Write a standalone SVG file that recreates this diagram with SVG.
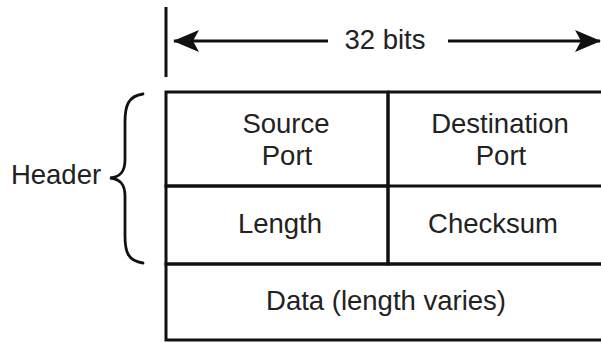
<svg xmlns="http://www.w3.org/2000/svg" width="601" height="342" viewBox="0 0 601 342">
  <style>
    .frame { fill: none; stroke: #111; stroke-width: 3; }
    .rule { stroke: #111; stroke-width: 3; fill: none; }
    .brace { fill: none; stroke: #111; stroke-width: 2.8; stroke-linecap: round; }
    .lbl { font-family: "Liberation Sans", Arial, Helvetica, sans-serif; font-size: 27.5px; fill: #222; text-anchor: middle; }
  </style>
  <defs>
    <marker id="head" viewBox="0 0 26 22" refX="25" refY="11" markerWidth="26" markerHeight="22" markerUnits="userSpaceOnUse" orient="auto-start-reverse">
      <path d="M0,0 L26,11 L0,22 L6,11 Z" fill="#111"/>
    </marker>
  </defs>

  <rect width="601" height="342" fill="#fff"/>

  <!-- width scale: 32 bits -->
  <g id="width-scale">
    <line class="rule" x1="166" y1="7" x2="166" y2="77"/>
    <text class="lbl" x="385" y="49">32 bits</text>
  </g>

  <g id="connectors">
    <line class="rule" x1="328" y1="41" x2="174" y2="41" marker-end="url(#head)"/>
    <line class="rule" x1="448" y1="41" x2="600" y2="41" marker-end="url(#head)"/>
  </g>

  <!-- header brace -->
  <g id="header">
    <path class="brace" d="M143,94 C128,96 125,106 125,122 L125,160 C125,172 120,177 110,178 C120,179 125,184 125,196 L125,236 C125,252 128,261 143,263"/>
    <text class="lbl" x="56" y="184">Header</text>
  </g>

  <!-- datagram fields -->
  <g id="source-port">
    <rect class="frame" x="166" y="92" width="222" height="94"/>
    <text class="lbl" x="286" y="133">Source</text>
    <text class="lbl" x="287" y="165">Port</text>
  </g>
  <g id="destination-port">
    <path class="frame" d="M388,92 H604 M388,92 V186 H604"/>
    <text class="lbl" x="500" y="133">Destination</text>
    <text class="lbl" x="501" y="165">Port</text>
  </g>
  <g id="length">
    <rect class="frame" x="166" y="186" width="222" height="78"/>
    <text class="lbl" x="280" y="233">Length</text>
  </g>
  <g id="checksum">
    <path class="frame" d="M388,186 V264 H604"/>
    <text class="lbl" x="493" y="233">Checksum</text>
  </g>
  <g id="data">
    <path class="frame" d="M604,264 H166 V340 H604"/>
    <text class="lbl" x="386" y="310">Data (length varies)</text>
  </g>
</svg>
